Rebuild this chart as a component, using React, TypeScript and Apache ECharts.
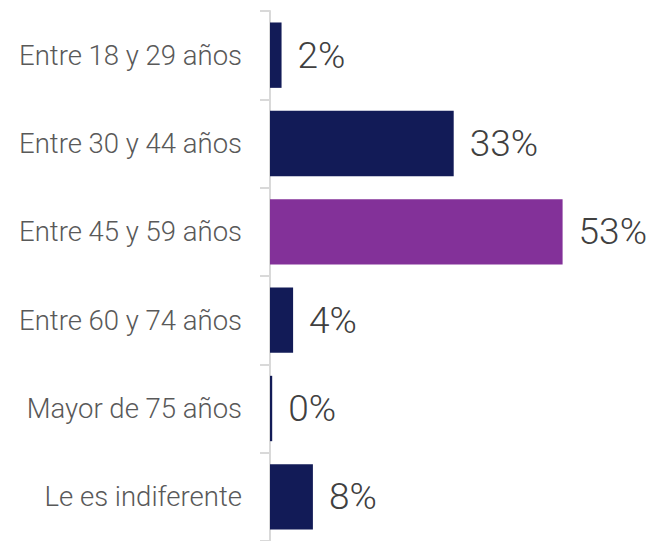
import React, { useEffect, useRef } from "react";
import * as echarts from "echarts";

const categories = [
  "Entre 18 y 29 años",
  "Entre 30 y 44 años",
  "Entre 45 y 59 años",
  "Entre 60 y 74 años",
  "Mayor de 75 años",
  "Le es indiferente",
];
const values = [2.1, 33.4, 53.2, 4.2, 0.4, 7.8];
const highlightIndex = 2;

const NAVY = "#121b57";
const PURPLE = "#833199";

export default function App() {
  const ref = useRef<HTMLDivElement>(null);
  useEffect(() => {
    const chart = echarts.init(ref.current!, null, { renderer: "svg" });
    chart.setOption({
      animation: false,
      grid: { left: 270, top: 11, width: 330, height: 532, containLabel: false },
      xAxis: {
        type: "value",
        min: 0,
        max: 60,
        show: false,
      },
      yAxis: {
        type: "category",
        inverse: true,
        data: categories,
        axisLine: { show: true, lineStyle: { color: "#d9d9d9", width: 2 } },
        axisTick: { show: true, length: 10, lineStyle: { color: "#d9d9d9", width: 2 } },
        axisLabel: {
          margin: 28,
          fontSize: 27.5,
          fontWeight: 300,
          color: "#595959",
          fontFamily: "'Roboto Light', Roboto",
          padding: [5, 0, 0, 0],
        },
      },
      series: [
        {
          type: "bar",
          barWidth: "74%",
          data: values.map((v, i) => ({
            value: v,
            itemStyle: { color: i === highlightIndex ? PURPLE : NAVY },
          })),
          label: {
            show: true,
            position: "right",
            distance: 16,
            fontSize: 37,
            fontWeight: 300,
            color: "#404040",
            fontFamily: "'Roboto Light', Roboto",
            padding: [6, 0, 0, 0],
            formatter: (p: any) => Math.round(p.value) + "%",
          },
        },
      ],
    });
    return () => chart.dispose();
  }, []);
  return <div ref={ref} style={{ width: 651, height: 541, position: "absolute", left: 0, top: 0 }} />;
}
